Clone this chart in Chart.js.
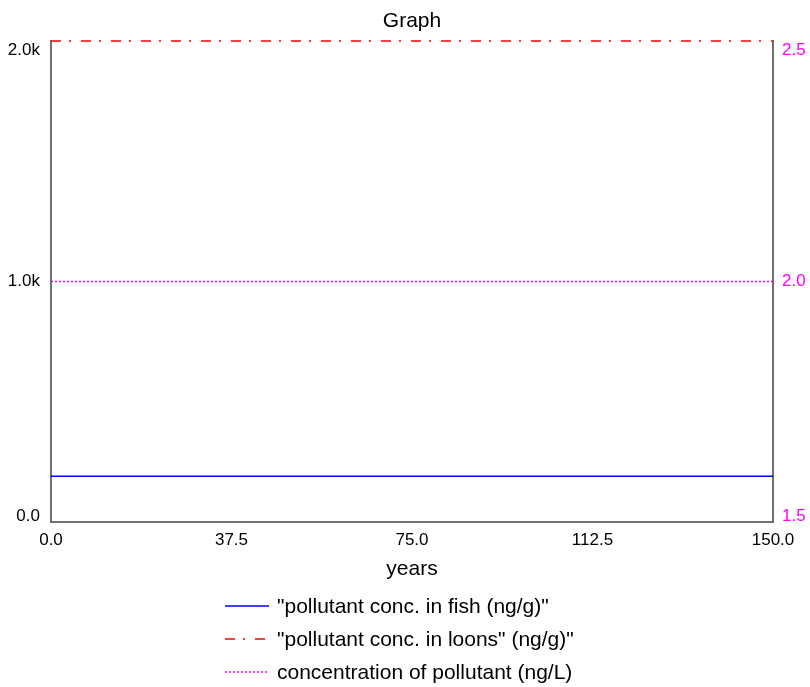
<!DOCTYPE html>
<html>
<head>
<meta charset="utf-8">
<script src="https://cdn.jsdelivr.net/npm/chart.js@4/dist/chart.umd.min.js"></script>
<style>
  html, body { margin: 0; padding: 0; background: #fff; }
  #wrap { width: 810px; height: 687px; }
</style>
</head>
<body>
<div id="wrap"><canvas id="graph" width="810" height="687"></canvas></div>
<script>
const years = [0, 150];
const fishConc = [190, 190];
const loonConc = [2000, 2000];
const waterConc = [2.0, 2.0];
const xTicks = [0, 37.5, 75, 112.5, 150];
const leftTicks = [0, 1000, 2000];
const rightTicks = [1.5, 2.0, 2.5];

const chartTitle = "Graph";
const seriesNames = [
    "\"pollutant conc. in fish (ng/g)\"",
    "\"pollutant conc. in loons\" (ng/g)\"",
    "concentration of pollutant (ng/L)"
];
const seriesColors = ["#0000ff", "#ff0000", "#ff00ff"];
const seriesDash = [[], [10, 8, 2, 10], [2, 2]];

const font = "'Liberation Sans', Arial, sans-serif";
const axisGray = "#707070";

const pts = (ys) => years.map((x, i) => ({ x: x, y: ys[i] }));

// end labels of the value axes sit inside the axis span, like the original
const endLabel = (text, index, count) => {
    if (index === 0) return [text, ""];
    if (index === count - 1) return ["", text];
    return text;
};
const endFont = (c) => {
    const v = c.tick ? c.tick.value : null;
    const o = c.scale.options;
    if (v !== null && v === o.min) return { family: font, size: 17, lineHeight: 0.72 };
    if (v !== null && v === o.max) return { family: font, size: 17, lineHeight: 1.15 };
    return { family: font, size: 17 };
};

// title centred over the plot, legend as a vertical list under the axis title
const frame = {
    id: "frame",
    afterDraw(chart) {
        const ctx = chart.ctx;
        const area = chart.chartArea;
        ctx.save();
        ctx.fillStyle = "#000";
        ctx.textAlign = "center";
        ctx.textBaseline = "middle";
        ctx.font = "21px " + font;
        ctx.fillText(chartTitle, (area.left + area.right) / 2, 21);

        ctx.textAlign = "left";
        chart.data.datasets.forEach((ds, i) => {
            const y = 606 + i * 33;
            ctx.beginPath();
            ctx.strokeStyle = ds.borderColor;
            ctx.lineWidth = 1.5;
            ctx.setLineDash(ds.borderDash || []);
            ctx.moveTo(225, y);
            ctx.lineTo(269, y);
            ctx.stroke();
            ctx.setLineDash([]);
            ctx.fillStyle = "#000";
            ctx.fillText(ds.label, 277, y + 1);
        });
        ctx.restore();
    }
};

new Chart(document.getElementById("graph").getContext("2d"), {
    type: "line",
    data: {
        datasets: [
            { label: seriesNames[0], data: pts(fishConc), yAxisID: "y",
              borderColor: seriesColors[0], borderDash: seriesDash[0] },
            { label: seriesNames[1], data: pts(loonConc), yAxisID: "y",
              borderColor: seriesColors[1], borderDash: seriesDash[1] },
            { label: seriesNames[2], data: pts(waterConc), yAxisID: "y2",
              borderColor: seriesColors[2], borderDash: seriesDash[2] }
        ]
    },
    options: {
        responsive: false,
        animation: false,
        clip: false,
        datasets: { line: { borderWidth: 1.5, pointRadius: 0, fill: false, tension: 0 } },
        layout: { padding: { top: 41, bottom: 101, left: 0, right: 0 } },
        plugins: {
            legend: { display: false },
            tooltip: { enabled: false },
            title: { display: false }
        },
        scales: {
            x: {
                type: "linear",
                min: 0,
                max: 150,
                afterBuildTicks: (s) => { s.ticks = xTicks.map(v => ({ value: v })); },
                afterFit: (s) => { s.height = 64; },
                grid: { display: false, drawTicks: false },
                border: { color: axisGray, width: 2 },
                ticks: {
                    color: "#000",
                    padding: 8,
                    maxRotation: 0,
                    font: { family: font, size: 17 },
                    callback: (v) => v.toFixed(1)
                },
                title: {
                    display: true,
                    text: "years",
                    color: "#000",
                    font: { family: font, size: 21 },
                    padding: { top: 12 }
                }
            },
            y: {
                position: "left",
                min: 0,
                max: 2000,
                afterBuildTicks: (s) => { s.ticks = leftTicks.map(v => ({ value: v })); },
                afterFit: (s) => { s.width = 51; },
                grid: { display: false, drawTicks: false },
                border: { color: axisGray, width: 2 },
                ticks: {
                    color: "#000",
                    padding: 11,
                    font: endFont,
                    callback: (v, i, all) => endLabel(v === 0 ? "0.0" : (v / 1000).toFixed(1) + "k", i, all.length)
                }
            },
            y2: {
                position: "right",
                min: 1.5,
                max: 2.5,
                afterBuildTicks: (s) => { s.ticks = rightTicks.map(v => ({ value: v })); },
                afterFit: (s) => { s.width = 37; },
                grid: { display: false, drawTicks: false },
                border: { color: axisGray, width: 2 },
                ticks: {
                    color: "#ff00ff",
                    padding: 9,
                    font: endFont,
                    callback: (v, i, all) => endLabel(v.toFixed(1), i, all.length)
                }
            }
        }
    },
    plugins: [frame]
});
</script>
</body>
</html>
